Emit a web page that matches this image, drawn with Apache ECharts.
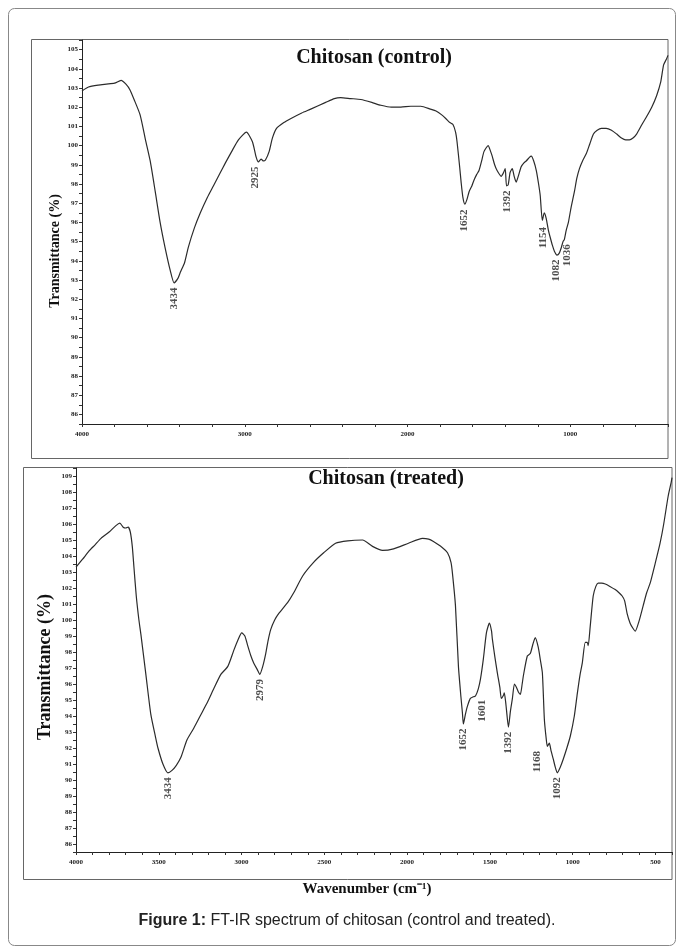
<!DOCTYPE html>
<html>
<head>
<meta charset="utf-8">
<script src="https://cdn.jsdelivr.net/npm/echarts@6/dist/echarts.min.js"></script>
<style>
html,body{margin:0;padding:0;background:#fff;}
#chart{width:683px;height:952px;}
</style>
</head>
<body>
<div id="chart"></div>
<script>
// ---------- DATA ----------
var topWavenumber = [4000,3960,3900,3850,3800,3760,3730,3705,3680,3643,3610,3581,3550,3520,3490,3458,3434,3410,3396,3370,3347,3310,3273,3230,3193,3150,3119,3080,3039,2990,2953,2930,2916,2900,2885,2873,2850,2830,2805,2760,2719,2650,2595,2503,2450,2411,2350,2287,2220,2164,2100,2041,1980,1918,1860,1825,1790,1764,1740,1721,1705,1696,1680,1671,1660,1648,1635,1622,1605,1592,1575,1561,1545,1530,1505,1490,1480,1465,1450,1425,1410,1400,1392,1382,1370,1357,1345,1333,1320,1302,1285,1271,1250,1240,1225,1209,1195,1185,1172,1160,1148,1135,1123,1110,1098,1082,1068,1055,1045,1037,1025,1012,995,975,960,944,925,901,880,858,835,809,780,747,715,686,660,637,615,593,560,532,500,470,445,427,410,400];
var topTransmittance = [102.85,103.05,103.15,103.2,103.25,103.4,103.2,102.9,102.4,101.6,100.3,99.2,97.6,96.0,94.7,93.5,92.85,93.1,93.4,93.9,94.7,95.7,96.5,97.3,97.9,98.6,99.1,99.7,100.3,100.7,100.2,99.4,99.15,99.3,99.2,99.25,99.7,100.4,100.9,101.2,101.4,101.7,101.9,102.25,102.45,102.5,102.45,102.4,102.25,102.1,102.0,102.0,102.05,102.05,101.9,101.8,101.6,101.4,101.2,101.1,100.7,100.2,98.9,98.1,97.3,96.95,97.2,97.6,97.9,98.2,98.5,98.7,99.2,99.7,100.0,99.7,99.45,99.0,98.7,98.4,98.6,98.8,97.9,97.95,98.6,98.8,98.4,98.1,98.4,98.9,99.1,99.2,99.4,99.45,99.2,98.7,98.0,97.4,96.1,96.5,96.2,95.6,95.2,94.8,94.5,94.3,94.4,94.7,95.0,95.1,95.6,96.0,96.8,97.6,98.3,98.8,99.2,99.6,100.1,100.6,100.8,100.9,100.9,100.8,100.6,100.4,100.3,100.3,100.4,100.6,101.1,101.5,102.0,102.6,103.3,104.2,104.5,104.7];

var bottomWavenumber = [4000,3960,3922,3885,3849,3800,3759,3735,3715,3700,3685,3672,3660,3650,3636,3620,3608,3578,3548,3520,3505,3475,3445,3420,3395,3367,3330,3288,3250,3204,3168,3125,3083,3047,3020,2999,2980,2963,2945,2926,2905,2890,2872,2854,2840,2824,2800,2776,2721,2685,2631,2565,2504,2432,2359,2269,2209,2148,2082,1992,1907,1870,1841,1790,1756,1735,1726,1708,1690,1675,1666,1660,1648,1636,1618,1600,1587,1570,1557,1539,1521,1503,1490,1485,1470,1455,1440,1431,1418,1413,1405,1400,1388,1376,1364,1352,1340,1328,1316,1305,1298,1274,1256,1240,1226,1208,1195,1183,1171,1160,1153,1141,1130,1117,1105,1093,1075,1057,1035,1014,990,972,955,942,924,912,906,894,876,860,846,825,803,775,743,720,701,686,671,653,637,622,600,574,553,532,500,472,450,423,405,400];
var bottomTransmittance = [103.3,103.8,104.3,104.7,105.1,105.5,105.9,106.05,105.8,105.75,105.8,105.5,104.6,103.3,101.5,100.0,99.1,96.6,94.1,92.7,92.0,91.0,90.45,90.6,90.9,91.4,92.5,93.25,94.0,94.9,95.7,96.6,97.1,98.1,98.8,99.2,99.0,98.4,97.8,97.3,96.9,96.6,97.1,97.9,98.7,99.4,100.0,100.4,101.1,101.7,102.75,103.6,104.2,104.8,104.95,105.0,104.6,104.35,104.45,104.8,105.1,105.05,104.9,104.55,104.2,103.6,102.9,100.9,97.1,95.2,94.2,93.5,94.1,94.6,95.1,95.2,95.25,95.7,96.3,97.6,99.2,99.8,99.3,98.8,97.7,96.7,95.8,95.1,95.3,95.45,94.9,94.4,93.3,94.3,95.1,96.0,95.8,95.5,95.35,96.0,96.5,97.75,97.9,98.5,98.9,98.3,97.5,96.7,93.8,92.6,92.1,92.3,91.8,91.3,90.8,90.45,90.8,91.3,92.0,92.75,94.0,95.4,96.6,97.3,98.6,98.6,98.4,99.6,101.5,102.1,102.3,102.3,102.25,102.1,101.9,101.7,101.5,101.2,100.4,99.8,99.5,99.3,99.9,100.9,101.7,102.3,103.6,104.8,106.0,107.75,108.6,108.9];

// peak annotations: wavenumber, transmittance at the band, printed value
var topPeakWavenumber = [3434, 2935, 1652, 1390, 1170, 1085, 1020];
var topPeakTransmittance = [92.85, 99.15, 96.9, 97.9, 96.0, 94.3, 95.1];
var topPeakText = ['3434','2925','1652','1392','1154','1082','1036'];

var bottomPeakWavenumber = [3445, 2890, 1660, 1545, 1388, 1215, 1093];
var bottomPeakTransmittance = [90.45, 96.6, 93.5, 95.3, 93.3, 92.1, 90.45];
var bottomPeakText = ['3434','2979','1652','1601','1392','1168','1092'];

var topTitle = 'Chitosan (control)';
var bottomTitle = 'Chitosan (treated)';
var yName = 'Transmittance (%)';
var xName = 'Wavenumber (cm\u207B\u00B9)';
var captionBold = 'Figure 1:';
var captionText = ' FT-IR spectrum of chitosan (control and treated).';

// ---------- BUILD ----------
function pairs(a, b) { return a.map(function (v, i) { return [v, b[i]]; }); }

var serif = 'Liberation Serif, Times New Roman, serif';
var ink = '#222';

function yAxis(grid, min, max) {
  return {
    gridIndex: grid, type: 'value', min: min, max: max, interval: 0.5,
    axisLine: { show: true, lineStyle: { color: ink, width: 1 } },
    axisTick: { show: true, length: 3, lineStyle: { color: '#333' } },
    axisLabel: {
      formatter: function (v) { return Math.abs(v - Math.round(v)) < 1e-6 ? String(Math.round(v)) : ''; },
      fontSize: 7, fontWeight: 'bold', fontFamily: serif, color: ink, margin: 4
    },
    splitLine: { show: false }
  };
}
function xAxis(grid, step, labelStep) {
  return {
    gridIndex: grid, type: 'value', inverse: true, min: 400, max: 4000, interval: step,
    axisLine: { show: true, onZero: false, lineStyle: { color: ink, width: 1 } },
    axisTick: { show: true, length: 3, lineStyle: { color: '#333' } },
    axisLabel: {
      formatter: function (v) { return (Math.round(v) % labelStep === 0) ? String(Math.round(v)) : ''; },
      fontSize: 7, fontWeight: 'bold', fontFamily: serif, color: ink, margin: 7
    },
    splitLine: { show: false }
  };
}
function peakSeries(idx, wn, tr, txt) {
  return {
    type: 'scatter', xAxisIndex: idx, yAxisIndex: idx, silent: true,
    symbolSize: 1, itemStyle: { color: 'rgba(0,0,0,0)' },
    data: pairs(wn, tr),
    label: {
      show: true, position: 'bottom', distance: 4, rotate: 90,
      align: 'right', verticalAlign: 'middle',
      formatter: function (p) { return txt[p.dataIndex]; },
      fontFamily: serif, fontWeight: 'bold', fontSize: 11, color: ink
    }
  };
}
function spectrum(idx, wn, tr) {
  return {
    type: 'line', xAxisIndex: idx, yAxisIndex: idx, silent: true,
    showSymbol: false, smooth: 0.2,
    lineStyle: { color: '#2b2b2b', width: 1.2 },
    data: pairs(wn, tr)
  };
}
function label(text, x, y, size, rot) {
  return { type: 'text', silent: true, x: x, y: y, rotation: rot || 0,
    style: { text: text, align: 'center', verticalAlign: 'middle', fontFamily: serif, fontWeight: 'bold', fontSize: size, fill: '#111' } };
}

var chart = echarts.init(document.getElementById('chart'), null, { renderer: 'canvas' });
chart.setOption({
  animation: false,
  backgroundColor: '#fff',
  grid: [
    { left: 82, top: 40, width: 586, height: 384 },
    { left: 76, top: 468, width: 596, height: 384 }
  ],
  xAxis: [ xAxis(0, 200, 1000), xAxis(1, 100, 500) ],
  yAxis: [ yAxis(0, 85.5, 105.5), yAxis(1, 85.5, 109.5) ],
  series: [
    spectrum(0, topWavenumber, topTransmittance),
    spectrum(1, bottomWavenumber, bottomTransmittance),
    peakSeries(0, topPeakWavenumber, topPeakTransmittance, topPeakText),
    peakSeries(1, bottomPeakWavenumber, bottomPeakTransmittance, bottomPeakText)
  ],
  graphic: [
    { type: 'rect', silent: true, shape: { x: 8.5, y: 8.5, width: 667, height: 937, r: 6 },
      style: { fill: 'none', stroke: '#888', lineWidth: 1 } },
    { type: 'rect', silent: true, shape: { x: 31.5, y: 39.5, width: 636.5, height: 419 },
      style: { fill: 'none', stroke: '#666', lineWidth: 1 } },
    { type: 'rect', silent: true, shape: { x: 23.5, y: 467.5, width: 648.5, height: 412 },
      style: { fill: 'none', stroke: '#666', lineWidth: 1 } },
    label(topTitle, 374, 58, 20),
    label(bottomTitle, 386, 479, 20),
    label(yName, 55, 251, 14, Math.PI / 2),
    label(yName, 45, 667, 18, Math.PI / 2),
    label(xName, 367, 889, 15),
    { type: 'text', silent: true, x: 347, y: 921,
      style: {
        text: '{b|' + captionBold + '}' + captionText,
        align: 'center', verticalAlign: 'middle',
        fontFamily: 'Liberation Sans, Arial, sans-serif', fontSize: 16, fill: '#222',
        rich: { b: { fontWeight: 'bold', fontFamily: 'Liberation Sans, Arial, sans-serif', fontSize: 16, fill: '#222' } }
      } }
  ]
});
</script>
</body>
</html>
